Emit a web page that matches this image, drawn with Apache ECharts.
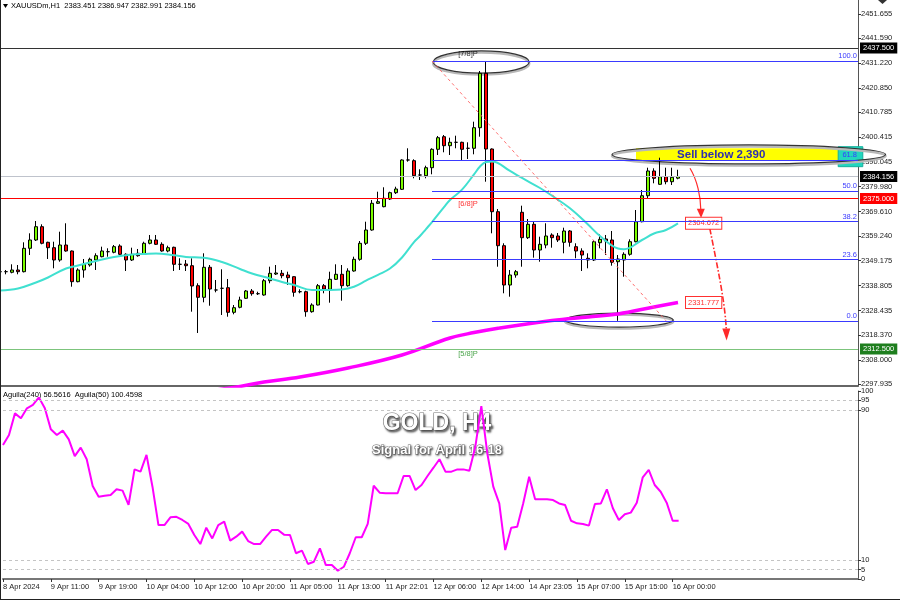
<!DOCTYPE html>
<html><head><meta charset="utf-8">
<script src="https://cdn.jsdelivr.net/npm/echarts@6/dist/echarts.min.js"></script>
<style>html,body{margin:0;padding:0;background:#fff;}#c{width:900px;height:600px;}</style>
</head><body><div id="c"></div>
<script>
// ---- candle data (H1, index 0..113) ----
const opens = [2344.59,2344.60,2344.34,2345.30,2344.59,2354.31,2357.76,2363.29,2356.80,2354.56,
2349.45,2355.68,2353.19,2340.44,2345.30,2347.37,2349.45,2350.82,2352.90,2352.65,
2355.27,2351.82,2349.45,2352.23,2351.82,2356.39,2357.76,2355.97,2353.19,2354.73,
2347.66,2347.79,2347.08,2338.77,2333.95,2346.42,2336.99,2337.69,2337.94,2327.72,
2329.80,2333.54,2336.57,2335.45,2334.91,2340.85,2343.63,2343.92,2343.22,2342.51,
2336.28,2336.28,2327.97,2330.75,2338.77,2337.28,2341.43,2343.51,2338.77,2344.88,
2349.74,2356.39,2361.91,2373.01,2371.60,2374.79,2377.41,2378.82,2391.00,2390.71,
2384.76,2384.47,2387.80,2395.44,2400.68,2396.94,2398.35,2398.35,2395.86,2395.86,
2404.42,2427.02,2395.57,2369.52,2355.39,2339.06,2343.22,2369.27,2358.72,2364.28,
2353.60,2355.68,2359.84,2359.42,2356.80,2361.50,2354.98,2353.19,2350.16,2349.45,
2356.64,2358.18,2357.76,2348.74,2349.45,2351.82,2357.05,2365.36,2376.16,2386.43,
2380.90,2384.06,2381.98,2383.451];
const closes = [2344.59,2344.60,2345.30,2344.59,2354.31,2357.76,2363.29,2356.39,2354.56,2349.45,
2355.68,2353.19,2340.44,2345.30,2347.66,2349.74,2351.24,2353.19,2352.90,2354.98,
2351.82,2349.45,2351.82,2351.24,2356.39,2357.76,2355.97,2353.19,2354.56,2347.66,
2347.66,2347.08,2338.65,2333.95,2346.42,2337.40,2336.99,2337.69,2327.72,2329.63,
2332.83,2336.57,2335.45,2335.45,2340.85,2343.92,2344.05,2342.93,2342.10,2336.03,
2336.28,2327.97,2330.75,2338.77,2337.40,2341.43,2343.51,2338.77,2344.88,2349.74,
2356.39,2361.91,2373.01,2373.67,2375.08,2377.41,2378.95,2391.00,2391.00,2384.47,
2384.76,2387.80,2395.44,2400.26,2396.94,2398.35,2398.35,2395.44,2395.86,2404.42,
2427.02,2395.57,2369.52,2355.39,2339.06,2343.22,2344.59,2358.72,2364.28,2353.60,
2355.97,2359.42,2358.72,2357.76,2361.50,2356.80,2353.19,2351.53,2349.45,2357.05,
2358.05,2357.34,2348.50,2349.87,2351.82,2357.05,2365.36,2376.16,2386.43,2383.39,
2384.06,2381.98,2383.81,2384.156];
const lows = [2344.05,2343.51,2343.92,2343.51,2344.30,2351.53,2357.34,2355.97,2349.87,2346.00,
2348.74,2352.90,2338.36,2340.19,2342.10,2346.67,2345.30,2350.57,2350.82,2352.23,
2351.53,2344.88,2349.03,2350.82,2351.53,2355.97,2355.68,2352.90,2352.65,2344.88,
2345.30,2344.88,2327.97,2319.12,2331.88,2330.46,2336.03,2326.60,2325.89,2326.89,
2329.38,2333.25,2334.62,2334.91,2334.62,2339.77,2343.22,2341.85,2339.06,2334.20,
2335.62,2325.89,2327.56,2330.60,2335.62,2331.71,2341.14,2332.54,2338.36,2344.59,
2349.16,2355.68,2361.62,2372.72,2371.35,2374.38,2376.87,2378.53,2390.29,2383.39,
2382.69,2383.39,2385.06,2393.07,2394.20,2393.07,2395.86,2390.58,2391.41,2393.36,
2400.68,2381.98,2360.54,2346.67,2335.62,2334.20,2342.10,2346.67,2358.18,2350.41,
2348.74,2354.31,2354.56,2356.93,2352.23,2354.98,2350.16,2344.88,2346.00,2349.03,
2354.31,2351.53,2347.08,2324.19,2342.51,2351.24,2356.80,2365.11,2374.79,2381.32,
2380.70,2380.90,2380.61,2382.991];
const highs = [2345.30,2345.30,2347.66,2347.37,2356.80,2360.54,2365.65,2364.28,2357.05,2357.05,
2361.21,2364.70,2353.40,2346.00,2349.87,2350.41,2352.23,2354.98,2354.31,2355.68,
2355.97,2352.23,2354.56,2354.02,2357.05,2359.84,2359.84,2356.80,2355.39,2354.98,
2350.16,2349.45,2350.16,2339.77,2352.23,2347.37,2341.14,2345.59,2341.56,2330.75,
2334.20,2336.99,2337.40,2336.28,2341.56,2346.67,2347.37,2345.30,2344.59,2342.70,
2337.28,2336.70,2331.46,2339.48,2339.48,2344.59,2347.66,2347.37,2346.00,2350.82,
2357.34,2365.36,2374.38,2377.83,2379.66,2377.83,2379.90,2391.29,2395.86,2391.29,
2387.13,2388.63,2395.86,2400.97,2401.38,2400.26,2401.09,2398.60,2398.35,2406.91,
2427.97,2432.13,2395.80,2370.64,2356.39,2345.30,2345.30,2372.01,2366.48,2365.65,
2359.13,2364.70,2360.54,2360.67,2362.87,2361.91,2356.39,2354.31,2352.23,2357.76,
2360.13,2359.84,2361.50,2351.53,2352.65,2358.05,2370.22,2378.53,2387.80,2387.55,
2391.95,2387.80,2387.80,2386.947];

// oscillator (Aguila) one value per candle
const osc = [71.3,76.6,88.1,85.5,90.8,92.6,96.6,90.8,79.6,76.6,
78.9,74.3,65.4,69.9,63.7,49.5,43.8,44.3,44.7,47.7,
47.0,39.4,58.3,57.1,66.0,49.1,28.7,28.7,32.8,33.1,
31.4,29.3,23.4,18.6,27.3,21.6,28.7,30.5,20.4,22.5,
25.2,20.2,18.6,18.6,22.5,26.1,26.1,23.6,23.4,13.7,
15.1,8.0,9.2,16.3,7.4,7.4,4.4,6.5,13.7,22.2,
22.2,29.3,49.6,45.9,45.6,45.6,45.6,54.8,54.8,47.3,
50.0,54.8,59.2,63.7,57.1,57.1,58.3,58.3,57.6,70.4,
92.0,66.9,49.1,40.2,15.4,27.3,27.8,40.2,54.4,42.4,
42.4,42.4,42.0,40.2,39.4,31.0,29.6,29.3,28.4,39.9,
40.2,47.7,37.6,31.4,34.4,35.3,40.6,54.1,58.0,50.0,
46.4,40.6,31.0,31.0];

// moving averages: [candle index, price]
const maFast = [[0,2336.78],[3,2337.61],[6,2340.10],[8,2342.18],[11,2345.92],[13,2347.17],[17,2349.66],
[19,2350.70],[22,2351.74],[24,2351.94],[26,2352.15],[29,2351.40],[31,2350.70],[34,2350.41],[37,2348.62],
[40,2345.71],[42,2343.84],[45,2341.76],[47,2340.31],[49,2339.06],[52,2336.99],[55,2336.99],[57,2337.19],
[59,2338.36],[61,2340.85],[63,2343.30],[65,2345.90],[67,2350.50],[69,2356.90],[70,2359.40],[71,2362.30],
[72,2365.20],[74,2371.40],[75,2374.40],[77,2378.70],[79,2385.00],[80,2388.30],[81,2390.20],[82,2390.40],
[85,2386.43],[87,2383.52],[90,2379.36],[92,2376.16],[95,2370.93],[98,2364.20],[100,2359.42],[103,2354.23],
[104,2353.94],[107,2357.76],[109,2360.46],[111,2361.91],[113,2364.672]];
const maSlow = [[36,2295.44],[40,2296.89],[44,2298.76],[50,2300.84],[58,2304.58],[67,2309.98],[75,2317.04],
[79,2319.30],[83,2321.10],[92,2324.31],[98,2325.77],[103,2327.02],[109,2329.93],[113,2331.777]];

// axis ticks and labels
const priceTicks = [2451.655,2441.590,2431.220,2420.850,2410.785,2400.415,2390.045,2379.980,2369.610,
2359.240,2349.175,2338.805,2328.435,2318.370,2308.000,2297.935];
const oscTicks = [0,5,10,90,95,100];
const oscLevels = [5,10,90,95];
const timeLabels = {0:'8 Apr 2024',8:'9 Apr 11:00',16:'9 Apr 19:00',24:'10 Apr 04:00',32:'10 Apr 12:00',
40:'10 Apr 20:00',48:'11 Apr 05:00',56:'11 Apr 13:00',64:'11 Apr 22:01',72:'12 Apr 06:00',80:'12 Apr 14:00',
88:'14 Apr 23:05',96:'15 Apr 07:00',104:'15 Apr 15:00',112:'16 Apr 00:00'};

// horizontal levels
const levelPrices = [2437.5, 2384.156, 2375.0, 2312.5];
const levelNames = ['[7/8]P', null, '[6/8]P', '[5/8]P'];
const fibNames = ['0.0','23.6','38.2','50.0','61.8','100.0'];
const fibPrices = [2324.19,2349.66,2365.42,2378.16,2390.90,2432.13];
const fibStart = 72, fibEnd = 143;
const trendLine = [[72,2432.13],[111,2324.19]];

const NSLOTS = 144;
const categories = [];
for (let i = 0; i < NSLOTS; i++) categories.push(String(i));

const FONT = 'Liberation Sans';
const chart = echarts.init(document.getElementById('c'));
const candleData = opens.map((o, i) => [o, closes[i], lows[i], highs[i]]);

const levelStyles = [
  {line:'#333333', bg:'#000000'},
  {line:'#bfc3cc', bg:'#000000'},
  {line:'#ff0000', bg:'#ff0000'},
  {line:'#7cc47c', bg:'#1e7e1e'}
];
const mlData = levelPrices.map((p, i) => ({
  yAxis: p,
  lineStyle: {color: levelStyles[i].line, width: 1, type: 'solid'},
  label: {show: true, position: 'end', distance: 2, formatter: p.toFixed(3),
    backgroundColor: levelStyles[i].bg, color: '#fff', fontSize: 7.5, fontFamily: FONT, padding: [2, 3, 1, 3]}
}));
fibPrices.forEach((p, i) => {
  const st = {lineStyle: {color: '#3a3aff', width: 1, type: 'solid'},
    label: {show: true, position: 'insideEndTop', distance: 1, formatter: fibNames[i], color: '#3a3aff', fontSize: 7.5, fontFamily: FONT}};
  mlData.push([Object.assign({coord: [fibStart, p]}, st), Object.assign({coord: [fibEnd, p]}, st)]);
});
const tl = {lineStyle: {color: '#ff7070', width: 1, type: [3, 3]}, label: {show: false}};
mlData.push([Object.assign({coord: trendLine[0]}, tl), Object.assign({coord: trendLine[1]}, tl)]);

const murreyColors = ['#000000', null, '#ff0000', '#1e8e1e'];
const murreyData = [];
levelPrices.forEach((p, i) => {
  if (levelNames[i]) murreyData.push({name: levelNames[i], value: [78, p],
    label: {color: murreyColors[i]}});
});

const endLbl = {show: true, formatter: (pp) => Number(pp.value[1]).toFixed(3), color: '#ff3030',
  backgroundColor: '#fff', borderColor: '#ff3030', borderWidth: 1, padding: [2, 2, 1, 2],
  fontSize: 7.5, fontFamily: FONT, distance: 8};

const option = {
  animation: false,
  backgroundColor: '#ffffff',
  textStyle: {fontFamily: FONT},
  grid: [
    {left: 0, top: 0, width: 858, height: 386},
    {left: 0, top: 391, width: 858, height: 188}
  ],
  xAxis: [
    {type: 'category', gridIndex: 0, data: categories, boundaryGap: false,
      axisLine: {show: true, onZero: false, lineStyle: {color: '#666', width: 2}},
      axisTick: {show: false}, axisLabel: {show: false}, splitLine: {show: false}},
    {type: 'category', gridIndex: 1, data: categories, boundaryGap: false,
      axisLine: {show: true, onZero: false, lineStyle: {color: '#777', width: 2}},
      axisTick: {show: true, length: 3, interval: (i) => timeLabels[i] !== undefined, lineStyle: {color: '#333'}},
      axisLabel: {interval: (i) => timeLabels[i] !== undefined, formatter: (v, i) => timeLabels[i] || '',
        align: 'left', fontSize: 7.5, color: '#222', margin: 4, fontFamily: FONT},
      splitLine: {show: false}}
  ],
  yAxis: [
    {type: 'value', gridIndex: 0, position: 'right', min: 2297.10, max: 2457.47, scale: true,
      axisLine: {show: true, lineStyle: {color: '#555'}},
      axisTick: {show: true, length: 3, customValues: priceTicks, lineStyle: {color: '#333'}},
      axisLabel: {customValues: priceTicks, formatter: (v) => v.toFixed(3), fontSize: 7.5, color: '#222', margin: 3, fontFamily: FONT},
      splitLine: {show: false}},
    {type: 'value', gridIndex: 1, position: 'right', min: 0, max: 100,
      axisLine: {show: true, lineStyle: {color: '#555'}},
      axisTick: {show: true, length: 3, customValues: oscTicks, lineStyle: {color: '#333'}},
      axisLabel: {customValues: oscTicks, formatter: (v) => String(v), fontSize: 7.5, color: '#222', margin: 3, fontFamily: FONT},
      splitLine: {show: false}}
  ],
  series: [
    {type: 'candlestick', xAxisIndex: 0, yAxisIndex: 0, data: candleData, barWidth: 4,
      itemStyle: {color: '#7cfc00', color0: '#ff0000', borderColor: '#000', borderColor0: '#000', borderColorDoji: '#000', borderWidth: 1},
      markLine: {symbol: ['none', 'none'], silent: true, animation: false, data: mlData}},
    {type: 'line', xAxisIndex: 0, yAxisIndex: 0, data: maFast, smooth: 0.4, symbol: 'none',
      lineStyle: {color: '#40e0d0', width: 2}, endLabel: endLbl, z: 3},
    {type: 'line', xAxisIndex: 0, yAxisIndex: 0, data: maSlow, smooth: 0.4, symbol: 'none',
      lineStyle: {color: '#ff00ff', width: 3.5}, endLabel: endLbl, z: 3},
    {type: 'scatter', xAxisIndex: 0, yAxisIndex: 0, data: murreyData, symbolSize: 1,
      itemStyle: {color: 'rgba(0,0,0,0)'},
      label: {show: true, position: 'bottom', distance: 1, formatter: (pp) => pp.name, fontSize: 7.5, fontFamily: FONT}},
    {type: 'line', xAxisIndex: 1, yAxisIndex: 1, data: osc, symbol: 'none',
      lineStyle: {color: '#ff00ff', width: 2},
      markLine: {symbol: ['none', 'none'], silent: true, label: {show: false},
        lineStyle: {color: '#c4c4c4', type: [3, 3], width: 1},
        data: oscLevels.map((v) => ({yAxis: v}))}}
  ]
};
chart.setOption(option);

// ---- annotations anchored in data space ----
const a = chart.convertToPixel({xAxisIndex: 0, yAxisIndex: 0}, [0, 2400]);
const b = chart.convertToPixel({xAxisIndex: 0, yAxisIndex: 0}, [10, 2300]);
const pxK = (b[0] - a[0]) / 10, pxP = (b[1] - a[1]) / 100;
const P = (k, p) => [a[0] + k * pxK, a[1] + (2400 - p) * pxP];

const ellipseDefs = [
  {k: 80.2, p: 2431.7, rk: 8, rp: 4.6},
  {k: 124.8, p: 2393.3, rk: 22.8, rp: 3.95},
  {k: 103.2, p: 2324.5, rk: 9, rp: 2.9}
];
const g = [];
const band = [P(106, 2395.86), P(140, 2390.70)];
g.push({type: 'rect', z: 1, shape: {x: band[0][0], y: band[0][1], width: band[1][0] - band[0][0], height: band[1][1] - band[0][1]},
  style: {fill: '#ffff00'}});
const cb = [P(139.7, 2396.52), P(143.8, 2388.22)];
g.push({type: 'rect', z: 1, shape: {x: cb[0][0], y: cb[0][1], width: cb[1][0] - cb[0][0], height: cb[1][1] - cb[0][1]},
  style: {fill: '#22d6be', stroke: '#14b09c', lineWidth: 1}});
ellipseDefs.forEach((e) => {
  const c = P(e.k, e.p);
  const rx = e.rk * pxK, ry = e.rp * pxP;
  g.push({type: 'ellipse', z: 1, shape: {cx: c[0], cy: c[1] + 1.5, rx: rx, ry: ry},
    style: {fill: null, stroke: '#b8b8b8', lineWidth: 2.5}});
  g.push({type: 'ellipse', z: 1, shape: {cx: c[0], cy: c[1], rx: rx, ry: ry},
    style: {fill: null, stroke: '#333', lineWidth: 1.2}});
});
const st = P(120.2, 2393.3);
g.push({type: 'text', z: 1, x: st[0], y: st[1],
  style: {text: 'Sell below 2,390', font: 'bold 11.5px "Liberation Sans"', fill: '#2e2eb0', align: 'center', verticalAlign: 'middle'}});

// arrows
function arrow(pts, dash) {
  const s = P(pts[0][0], pts[0][1]), c1 = P(pts[1][0], pts[1][1]), c2 = P(pts[2][0], pts[2][1]),
    e = P(pts[3][0], pts[3][1]), t = P(pts[4][0], pts[4][1]);
  g.push({type: 'bezierCurve', z: 1, shape: {x1: s[0], y1: s[1], cpx1: c1[0], cpy1: c1[1], cpx2: c2[0], cpy2: c2[1], x2: e[0], y2: e[1]},
    style: {stroke: '#ff2a2a', lineWidth: dash ? 1.6 : 1.2, fill: null, lineDash: dash || null}});
  g.push({type: 'polygon', z: 1, shape: {points: [[t[0], t[1]], [e[0] - 4, e[1] - 1], [e[0] + 4, e[1] - 1]]},
    style: {fill: '#ff2a2a'}});
}
arrow([[115, 2387.55], [116.2, 2382.7], [116.8, 2375.6], [116.8, 2370.3], [116.85, 2366.9]], null);
arrow([[118.3, 2362.6], [119.5, 2347.4], [120.8, 2332.8], [121.05, 2320.6], [121.1, 2316.0]], [6, 2, 1.5, 2]);

// titles and frame
g.push({type: 'text', z: 1, x: 437, y: 424,
  style: {text: 'GOLD, H4', font: 'bold 23px "Liberation Sans"', fill: '#ffffff', stroke: '#7a7a7a', lineWidth: 1.2,
    align: 'center', verticalAlign: 'middle', textShadowColor: 'rgba(0,0,0,0.55)', textShadowBlur: 2, textShadowOffsetX: 1.5, textShadowOffsetY: 1.5}});
g.push({type: 'text', z: 1, x: 437, y: 450,
  style: {text: 'Signal for April 16-18', font: 'bold 13px "Liberation Sans"', fill: '#ffffff', stroke: '#7a7a7a', lineWidth: 1,
    align: 'center', verticalAlign: 'middle', textShadowColor: 'rgba(0,0,0,0.55)', textShadowBlur: 2, textShadowOffsetX: 1, textShadowOffsetY: 1}});
g.push({type: 'polygon', z: 1, shape: {points: [[3, 4], [8, 4], [5.5, 8]]}, style: {fill: '#000'}});
g.push({type: 'text', z: 1, x: 11, y: 6,
  style: {text: 'XAUUSDm,H1  2383.451 2386.947 2382.991 2384.156', font: '7.5px "Liberation Sans"', fill: '#000', verticalAlign: 'middle'}});
g.push({type: 'text', z: 1, x: 3, y: 395,
  style: {text: 'Aguila(240) 56.5616  Aguila(50) 100.4598', font: '7.5px "Liberation Sans"', fill: '#000', verticalAlign: 'middle'}});
g.push({type: 'polygon', z: 1, shape: {points: [[878, 0], [887, 0], [882.5, 4]]}, style: {fill: '#333'}});
g.push({type: 'line', z: 5, shape: {x1: 0.5, y1: 0, x2: 0.5, y2: 600}, style: {stroke: '#222', lineWidth: 1}});
g.push({type: 'line', z: 5, shape: {x1: 0, y1: 599.5, x2: 900, y2: 599.5}, style: {stroke: '#222', lineWidth: 1}});

chart.setOption({graphic: g});
</script>
</body></html>
